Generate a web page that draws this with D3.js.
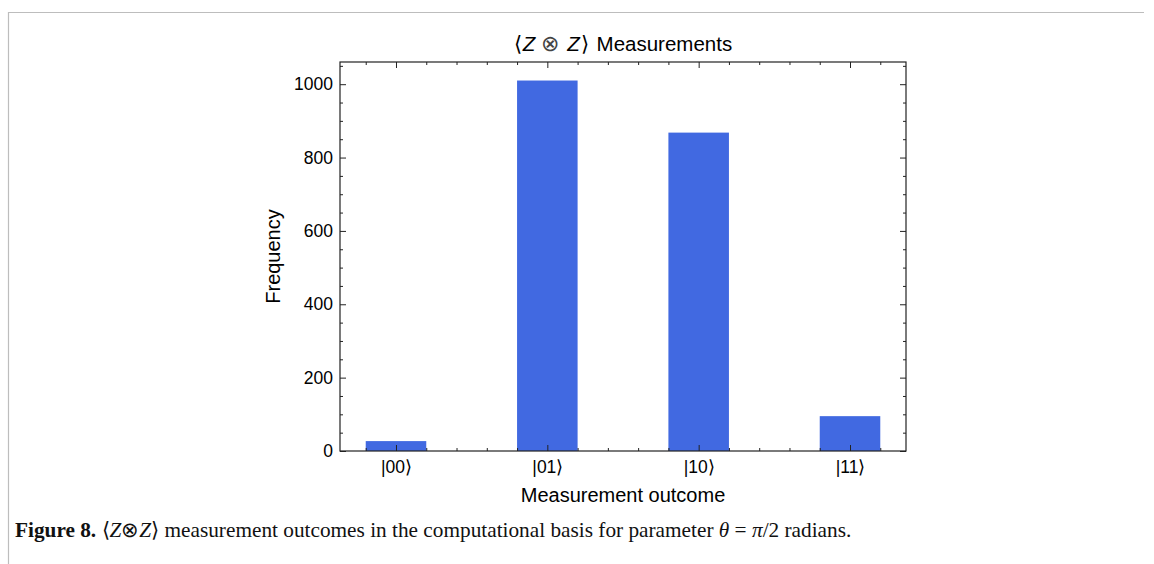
<!DOCTYPE html>
<html>
<head>
<meta charset="utf-8">
<script src="https://cdn.jsdelivr.net/npm/d3@7"></script>
<style>
  html, body { margin: 0; padding: 0; background: #fff; }
  svg { display: block; }
</style>
</head>
<body>
<svg id="chart" width="1154" height="564"></svg>
<script>
// ---- data ----
const categories = ["00", "01", "10", "11"];
const frequencies = [27, 1010, 868, 95];
const yTickValues = [0, 200, 400, 600, 800, 1000];
const yMinorValues = d3.range(0, 1061, 50);
const xMinorValues = [-0.2, 0.2, 0.4, 0.6, 0.8, 1.2, 1.4, 1.6, 1.8, 2.2, 2.4, 2.6, 2.8, 3.2];

const svg = d3.select("#chart");
const L = 340, R = 906, T = 62, B = 451;
const sans = "'Liberation Sans', Arial, Helvetica, sans-serif";
const serif = "'Liberation Serif', 'Times New Roman', serif";

// page border
svg.append("path").attr("d", "M8.5,564 V12.5 H1144")
  .attr("fill", "none").attr("stroke", "#bdbdbd").attr("stroke-width", 1.2);

const x = d3.scaleLinear().domain([-0.37, 3.37]).range([L, R]);
const y = d3.scaleLinear().domain([0, 1060.5]).range([B, T]);
const idx = categories.map((d, i) => i);

// bars
svg.append("g").selectAll("rect").data(frequencies).join("rect")
  .attr("x", (d, i) => x(i - 0.2))
  .attr("width", (d, i) => x(i + 0.2) - x(i - 0.2))
  .attr("y", d => y(d))
  .attr("height", d => y(0) - y(d))
  .attr("fill", "#4169E1");

function styleAxis(g) {
  g.select(".domain").remove();
  g.selectAll(".tick line").attr("stroke", "#222").attr("stroke-width", 1);
  g.selectAll("text").attr("font-family", sans).attr("font-size", 17.5).attr("fill", "#000");
}

// bottom axis (major + labels)
svg.append("g").attr("transform", `translate(0,${B})`)
  .call(d3.axisBottom(x).tickValues(idx).tickSize(-6).tickPadding(10)
    .tickFormat(i => "|" + categories[i] + "\u27E9"))
  .call(styleAxis);
svg.append("g").attr("transform", `translate(0,${B})`)
  .call(d3.axisBottom(x).tickValues(xMinorValues).tickSize(-3).tickFormat(""))
  .call(styleAxis);
// top axis
svg.append("g").attr("transform", `translate(0,${T})`)
  .call(d3.axisTop(x).tickValues(idx).tickSize(-6).tickFormat(""))
  .call(styleAxis);
svg.append("g").attr("transform", `translate(0,${T})`)
  .call(d3.axisTop(x).tickValues(xMinorValues).tickSize(-3).tickFormat(""))
  .call(styleAxis);
// left axis
svg.append("g").attr("transform", `translate(${L},0)`)
  .call(d3.axisLeft(y).tickValues(yTickValues).tickSize(-6).tickPadding(7).tickFormat(d3.format("d")))
  .call(styleAxis);
svg.append("g").attr("transform", `translate(${L},0)`)
  .call(d3.axisLeft(y).tickValues(yMinorValues.filter(v => !yTickValues.includes(v))).tickSize(-3).tickFormat(""))
  .call(styleAxis);
// right axis
svg.append("g").attr("transform", `translate(${R},0)`)
  .call(d3.axisRight(y).tickValues(yTickValues).tickSize(-6).tickFormat(""))
  .call(styleAxis);
svg.append("g").attr("transform", `translate(${R},0)`)
  .call(d3.axisRight(y).tickValues(yMinorValues.filter(v => !yTickValues.includes(v))).tickSize(-3).tickFormat(""))
  .call(styleAxis);

// frame
svg.append("rect").attr("x", L).attr("y", T).attr("width", R - L).attr("height", B - T)
  .attr("fill", "none").attr("stroke", "#222").attr("stroke-width", 1.2);

// title
const title = svg.append("text").attr("x", (L + R) / 2).attr("y", 51)
  .attr("text-anchor", "middle").attr("font-family", sans).attr("font-size", 20.5).attr("fill", "#000");
title.append("tspan").text("\u27E8");
title.append("tspan").attr("font-style", "italic").attr("dx", 1).text("Z");
title.append("tspan").attr("font-size", 22).attr("fill", "#444").attr("dx", 6).text("\u2297");
title.append("tspan").attr("font-style", "italic").attr("dx", 8).text("Z");
title.append("tspan").attr("dx", 1).text("\u27E9");
title.append("tspan").attr("dx", 2).text(" Measurements");

// axis labels
svg.append("text").attr("x", (L + R) / 2).attr("y", 502)
  .attr("text-anchor", "middle").attr("font-family", sans).attr("font-size", 20).attr("fill", "#000")
  .text("Measurement outcome");
svg.append("text").attr("transform", `translate(280,${(T + B) / 2}) rotate(-90)`)
  .attr("text-anchor", "middle").attr("font-family", sans).attr("font-size", 20).attr("fill", "#000")
  .text("Frequency");

// caption
const cap = svg.append("text").attr("x", 15).attr("y", 537)
  .attr("font-family", serif).attr("font-size", 18).attr("fill", "#111");
cap.append("tspan").attr("font-weight", "bold").text("Figure 8. ");
cap.append("tspan").text("\u27E8");
cap.append("tspan").attr("font-style", "italic").text("Z");
cap.append("tspan").text("\u2297");
cap.append("tspan").attr("font-style", "italic").text("Z");
cap.append("tspan").text("\u27E9 measurement outcomes in the computational basis for parameter ");
cap.append("tspan").attr("font-style", "italic").text("\u03B8");
cap.append("tspan").text(" = ");
cap.append("tspan").attr("font-style", "italic").text("\u03C0");
cap.append("tspan").text("/2 radians.");
const w = cap.node().getComputedTextLength();
if (w > 0) cap.attr("font-size", 18 * 837 / w);
</script>
</body>
</html>
